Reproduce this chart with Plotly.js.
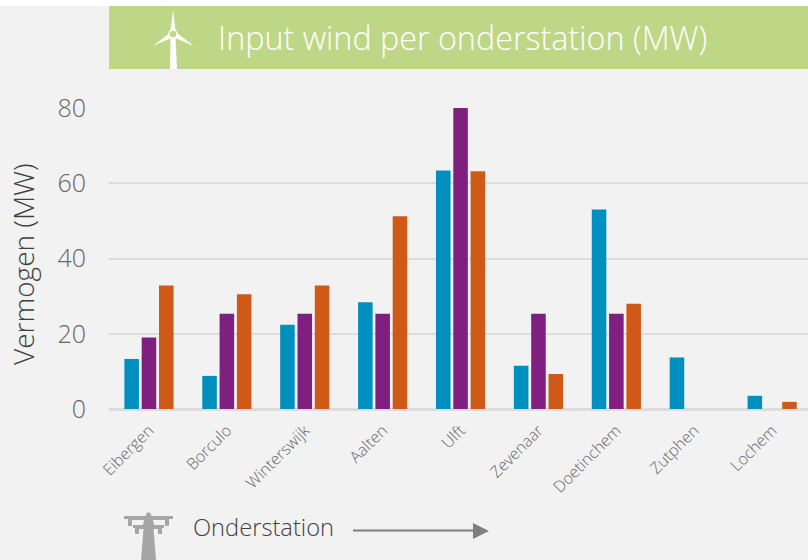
<!DOCTYPE html>
<html>
<head>
<meta charset="utf-8">
<script src="https://cdn.plot.ly/plotly-3.0.1.min.js"></script>
<style>html,body{margin:0;padding:0;background:#f2f2f2;overflow:hidden}#chart{width:808px;height:560px}</style>
</head>
<body>
<div id="chart"></div>
<script>
const categories = ['Eibergen','Borculo','Winterswijk','Aalten','Ulft','Zevenaar','Doetinchem','Zutphen','Lochem'];
const seriesBlue = [13.3, 8.8, 22.4, 28.4, 63.4, 11.5, 53, 13.7, 3.5];
const seriesPurple = [19, 25.3, 25.3, 25.3, 80, 25.3, 25.3, null, null];
const seriesOrange = [32.8, 30.5, 32.8, 51.2, 63.2, 9.3, 28, null, 1.9];
const yTicks = [0, 20, 40, 60, 80];

const FONT = '"Open Sans", "Noto Sans", sans-serif';
const W = 808, H = 560, L = 109, R = 0, T = 108, B = 151;
const px = x => (x - L) / (W - L - R);
const py = y => 1 - (y - T) / (H - T - B);
const P = pts => pts.map((p, i) => (p === 'Z' ? 'Z' : (i ? 'L' : 'M') + px(p[0]) + ',' + py(p[1]))).join(' ');

const rect = (x0, y0, x1, y1, color) => ({type:'rect', xref:'paper', yref:'paper', layer:'below',
  x0:px(x0), x1:px(x1), y0:py(y0), y1:py(y1), fillcolor:color, line:{width:0}});
const poly = (pts, color) => ({type:'path', xref:'paper', yref:'paper', path:P(pts.concat(['Z'])),
  fillcolor:color, line:{width:0}, layer:'above'});

const shapes = [
  rect(0, 0, 808, 6, '#ffffff'),
  rect(109, 6, 808, 69, '#bdd786'),
  // wind turbine
  poly([[170,69],[170.5,38],[175.5,38],[177,69]], '#ffffff'),
  poly([[173,10],[170.5,30],[175.5,30]], '#ffffff'),
  poly([[153,46],[169,33.5],[171.5,38]], '#ffffff'),
  poly([[194,46],[175,38],[177.5,33.5]], '#ffffff'),
  {type:'circle', xref:'paper', yref:'paper', layer:'above', x0:px(169), x1:px(177), y0:py(30), y1:py(38),
   fillcolor:'#bdd786', line:{color:'#ffffff', width:1.5}},
  // pylon
  poly([[124,516],[145.5,516],[147,512.5],[150,512.5],[151.5,516],[173,516],[173,519],[169,519],[169,526],[165,526],[165,520],[153,520],[154,525],[164,525],[164,528],[162,528],[162,534],[158,534],[158,529],[153.5,529],[156,560],[141,560],[143.5,529],[139,529],[139,534],[135,534],[135,528],[133,528],[133,525],[143,525],[144,520],[132,520],[132,526],[128,526],[128,519],[124,519]], '#a6a6a6'),
  // arrow
  {type:'line', xref:'paper', yref:'paper', layer:'above', x0:px(353), x1:px(475), y0:py(530.5), y1:py(530.5),
   line:{color:'#7f7f7f', width:2}},
  poly([[473,523],[489,531],[473,539]], '#7f7f7f')
];

const annotations = [
  {xref:'paper', yref:'paper', x:px(216), y:py(37), xanchor:'left', yanchor:'middle', showarrow:false,
   text:'Input wind per onderstation (MW)', font:{family:FONT, size:32.3, color:'#ffffff', weight:300}},
  {xref:'paper', yref:'paper', x:px(191), y:py(527), xanchor:'left', yanchor:'middle', showarrow:false,
   text:'Onderstation', font:{family:FONT, size:23.7, color:'#404040', weight:300}},
  {xref:'paper', yref:'paper', x:px(23), y:py(264), xanchor:'center', yanchor:'middle', showarrow:false, textangle:-90,
   text:'Vermogen (MW)', font:{family:FONT, size:28, color:'#404040', weight:300}}
];

const bar = (name, y, color) => ({type:'bar', name, x:categories, y, marker:{color, line:{width:0}}, hoverinfo:'x+y'});
const data = [bar('Reeks 1', seriesBlue, '#0090bf'), bar('Reeks 2', seriesPurple, '#7f1f7f'), bar('Reeks 3', seriesOrange, '#cf5a17')];

const layout = {
  width:W, height:H, autosize:false, showlegend:false,
  paper_bgcolor:'#f2f2f2', plot_bgcolor:'rgba(0,0,0,0)',
  margin:{l:L, r:R, t:T, b:B, pad:0},
  barmode:'group', bargap:0.333, bargroupgap:0.16,
  xaxis:{type:'category', range:[-0.513, 8.46], tickangle:-45, ticks:'', showgrid:false, showline:false,
    zeroline:false, automargin:false, ticklabelstandoff:8, tickfont:{family:FONT, size:16, color:'#666666', weight:300}},
  yaxis:{range:[0, 80], tickvals:yTicks, ticktext:yTicks.map(String), ticks:'', showline:false, automargin:false,
    ticklabelstandoff:22,
    gridcolor:'#dcdcdc', gridwidth:2, zeroline:true, zerolinecolor:'#dcdcdc', zerolinewidth:3,
    tickfont:{family:FONT, size:25, color:'#666666', weight:300}},
  shapes, annotations
};
Plotly.newPlot('chart', data, layout, {displayModeBar:false, staticPlot:true});
</script>
</body>
</html>
